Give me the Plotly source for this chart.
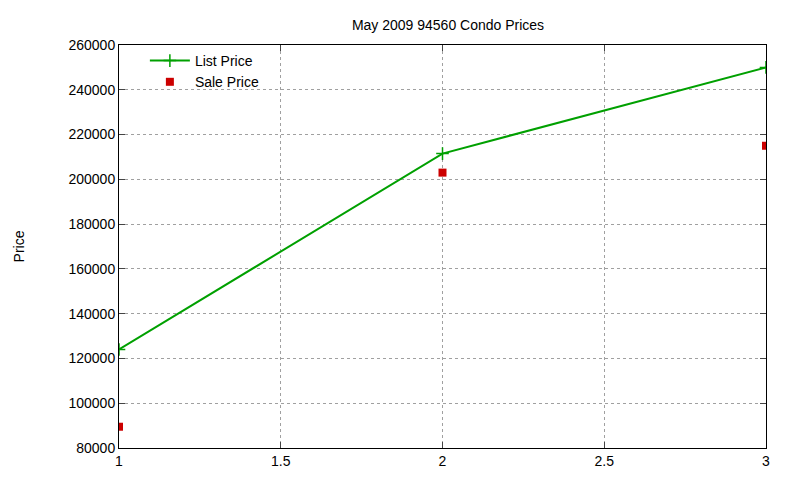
import plotly.graph_objects as go

x = [1, 2, 3]
list_price = [124000, 211500, 250000]
sale_price = [89500, 203000, 215000]

fig = go.Figure()
fig.add_trace(go.Scatter(x=x, y=list_price, mode="lines+markers", name="List Price",
                         line=dict(color="#00a000", width=2),
                         marker=dict(symbol="cross-thin", size=9, line=dict(color="#00a000", width=1.5))))
fig.add_trace(go.Scatter(x=x, y=sale_price, mode="markers", name="Sale Price",
                         marker=dict(symbol="square", size=8, color="#cc0000")))
ax = dict(showline=True, linecolor="black", mirror="ticks", ticks="inside", ticklen=6,
          showgrid=True, gridcolor="#a0a0a0", griddash="dot", gridwidth=1, zeroline=False,
          tickfont=dict(family="Liberation Sans, Arial", size=14, color="black"))
fig.update_xaxes(range=[1, 3], dtick=0.5, **ax)
fig.update_yaxes(range=[80000, 260000], dtick=20000, tickformat="d",
                 title=dict(text="Price", font=dict(size=14, color="black"), standoff=40), **ax)
fig.update_layout(
    width=800, height=480, plot_bgcolor="white", paper_bgcolor="white",
    margin=dict(l=111, r=42, t=37, b=40),
    font=dict(family="Liberation Sans, Arial", size=14, color="black"),
    title=dict(text="May 2009 94560 Condo Prices", x=0.55, y=0.975, xanchor="center", font=dict(size=14)),
    legend=dict(x=0.04, y=1.0, xanchor="left", yanchor="top", bgcolor="rgba(0,0,0,0)",
                font=dict(size=14), tracegroupgap=0, itemwidth=40),
)
fig.write_html("out.html")
